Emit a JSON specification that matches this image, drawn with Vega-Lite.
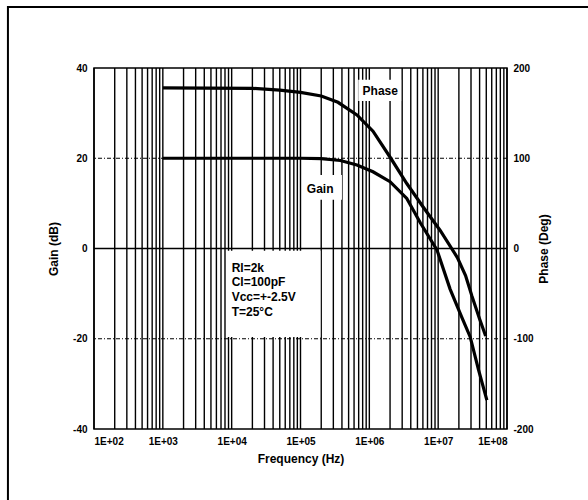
{
  "$schema": "https://vega.github.io/schema/vega-lite/v6.json",
  "width": 413,
  "height": 361,
  "autosize": "none",
  "padding": {"left": 94, "top": 68, "right": 81, "bottom": 71},
  "background": "white",
  "config": {
    "font": "Liberation Sans",
    "view": {"stroke": "#000", "strokeWidth": 1.5},
    "axis": {
      "labelFont": "Liberation Sans", "labelFontWeight": "bold", "labelFontSize": 10, "labelColor": "#000",
      "titleFont": "Liberation Sans", "titleFontWeight": "bold", "titleFontSize": 12, "titleColor": "#000",
      "domain": false, "ticks": false, "grid": false
    }
  },
  "datasets": {
    "grid": [
      {"f": 100}, {"f": 200}, {"f": 300}, {"f": 400}, {"f": 500}, {"f": 600}, {"f": 700}, {"f": 800}, {"f": 900},
      {"f": 1000}, {"f": 2000}, {"f": 3000}, {"f": 4000}, {"f": 5000}, {"f": 6000}, {"f": 7000}, {"f": 8000}, {"f": 9000},
      {"f": 10000}, {"f": 20000}, {"f": 30000}, {"f": 40000}, {"f": 50000}, {"f": 60000}, {"f": 70000}, {"f": 80000}, {"f": 90000},
      {"f": 100000}, {"f": 200000}, {"f": 300000}, {"f": 400000}, {"f": 500000}, {"f": 600000}, {"f": 700000}, {"f": 800000}, {"f": 900000},
      {"f": 1000000}, {"f": 2000000}, {"f": 3000000}, {"f": 4000000}, {"f": 5000000}, {"f": 6000000}, {"f": 7000000}, {"f": 8000000}, {"f": 9000000},
      {"f": 10000000}, {"f": 20000000}, {"f": 30000000}, {"f": 40000000}, {"f": 50000000}, {"f": 60000000}, {"f": 70000000}, {"f": 80000000}, {"f": 90000000},
      {"f": 100000000}
    ],
    "dotted": [{"g": 20}, {"g": -20}],
    "solid": [{"g": 0}],
    "boxes": [
      {"f1": 8500, "f2": 195000, "g1": -19.6, "g2": -0.5},
      {"f1": 690000, "f2": 2900000, "g1": 32.7, "g2": 37.4},
      {"f1": 105000, "f2": 400000, "g1": 10.8, "g2": 16.3}
    ],
    "notes": [
      {"f": 10000, "g": -4.3, "t": "Rl=2k"},
      {"f": 10000, "g": -7.5, "t": "Cl=100pF"},
      {"f": 10000, "g": -10.8, "t": "Vcc=+-2.5V"},
      {"f": 10000, "g": -14.0, "t": "T=25°C"}
    ],
    "labels": [
      {"f": 1440000, "g": 34.9, "t": "Phase"},
      {"f": 193000, "g": 13.2, "t": "Gain"}
    ],
    "frame": [{"f1": 5.62, "f2": 3000000000, "g1": 53.5, "g2": -60}],
    "gain": [
      {"f": 1000, "g": 20}, {"f": 100000, "g": 20}, {"f": 200000, "g": 19.9}, {"f": 380000, "g": 19.5},
      {"f": 660000, "g": 18.5}, {"f": 1130000, "g": 17.0}, {"f": 2000000, "g": 14.8}, {"f": 3500000, "g": 11.1},
      {"f": 5500000, "g": 5.7}, {"f": 9600000, "g": -0.3}, {"f": 14900000, "g": -9.0}, {"f": 22000000, "g": -15.2},
      {"f": 29200000, "g": -19.6}, {"f": 38600000, "g": -26.9}, {"f": 51000000, "g": -33.6}
    ],
    "phase": [
      {"f": 1000, "p": 178}, {"f": 20000, "p": 177.5}, {"f": 50000, "p": 175.5}, {"f": 100000, "p": 173},
      {"f": 200000, "p": 169}, {"f": 350000, "p": 162}, {"f": 660000, "p": 148}, {"f": 1130000, "p": 130},
      {"f": 2050000, "p": 100}, {"f": 3500000, "p": 72}, {"f": 6050000, "p": 46}, {"f": 10700000, "p": 20},
      {"f": 19000000, "p": -10}, {"f": 25000000, "p": -30}, {"f": 31000000, "p": -53}, {"f": 40000000, "p": -78},
      {"f": 49000000, "p": -97}
    ]
  },
  "layer": [
    {
      "layer": [
        {
          "data": {"name": "grid"},
          "mark": {"type": "rule", "stroke": "#000", "strokeWidth": 1.4},
          "encoding": {
            "x": {"field": "f", "type": "quantitative",
              "scale": {"type": "log", "domain": [100, 100000000], "nice": false},
              "axis": {"values": [100, 1000, 10000, 100000, 1000000, 10000000, 100000000],
                "labelExpr": "'1E+0' + format(log(datum.value)/LN10, '.0f')",
                "labelPadding": 7, "title": "Frequency (Hz)", "titlePadding": 7, "orient": "bottom"}}
          }
        },
        {
          "data": {"name": "dotted"},
          "mark": {"type": "rule", "stroke": "#000", "strokeWidth": 1, "strokeDash": [4, 2, 1, 2]},
          "encoding": {
            "y": {"field": "g", "type": "quantitative",
              "scale": {"domain": [-40, 40], "nice": false, "zero": false},
              "axis": {"values": [-40, -20, 0, 20, 40],
                "labelExpr": "datum.value < 0 ? '-' + (-datum.value) : '' + datum.value",
                "labelPadding": 7, "title": "Gain (dB)", "titlePadding": 12, "orient": "left"}}
          }
        },
        {
          "data": {"name": "solid"},
          "mark": {"type": "rule", "stroke": "#000", "strokeWidth": 1.5},
          "encoding": {"y": {"field": "g", "type": "quantitative"}}
        },
        {
          "data": {"name": "boxes"},
          "mark": {"type": "rect", "fill": "white", "stroke": null},
          "encoding": {
            "x": {"field": "f1", "type": "quantitative"}, "x2": {"field": "f2"},
            "y": {"field": "g1", "type": "quantitative"}, "y2": {"field": "g2"}
          }
        },
        {
          "data": {"name": "notes"},
          "mark": {"type": "text", "align": "left", "baseline": "middle", "font": "Liberation Sans", "fontWeight": "bold", "fontSize": 12, "color": "#000"},
          "encoding": {
            "x": {"field": "f", "type": "quantitative"},
            "y": {"field": "g", "type": "quantitative"},
            "text": {"field": "t"}
          }
        },
        {
          "data": {"name": "labels"},
          "mark": {"type": "text", "align": "center", "baseline": "middle", "font": "Liberation Sans", "fontWeight": "bold", "fontSize": 12, "color": "#000"},
          "encoding": {
            "x": {"field": "f", "type": "quantitative"},
            "y": {"field": "g", "type": "quantitative"},
            "text": {"field": "t"}
          }
        },
        {
          "data": {"name": "gain"},
          "mark": {"type": "line", "stroke": "#000", "strokeWidth": 3.2},
          "encoding": {
            "x": {"field": "f", "type": "quantitative"},
            "y": {"field": "g", "type": "quantitative"}
          }
        },
        {
          "data": {"name": "frame"},
          "mark": {"type": "rect", "filled": false, "stroke": "#000", "strokeWidth": 2, "clip": false},
          "encoding": {
            "x": {"field": "f1", "type": "quantitative"}, "x2": {"field": "f2"},
            "y": {"field": "g1", "type": "quantitative"}, "y2": {"field": "g2"}
          }
        }
      ]
    },
    {
      "data": {"name": "phase"},
      "mark": {"type": "line", "stroke": "#000", "strokeWidth": 3.2},
      "encoding": {
        "x": {"field": "f", "type": "quantitative"},
        "y": {"field": "p", "type": "quantitative",
          "scale": {"domain": [-200, 200], "nice": false, "zero": false},
          "axis": {"values": [-200, -100, 0, 100, 200],
            "labelExpr": "datum.value < 0 ? '-' + (-datum.value) : '' + datum.value",
            "labelPadding": 6, "title": "Phase (Deg)", "titlePadding": 17, "titleAngle": -90, "orient": "right"}}
      }
    }
  ],
  "resolve": {"scale": {"y": "independent"}}
}
